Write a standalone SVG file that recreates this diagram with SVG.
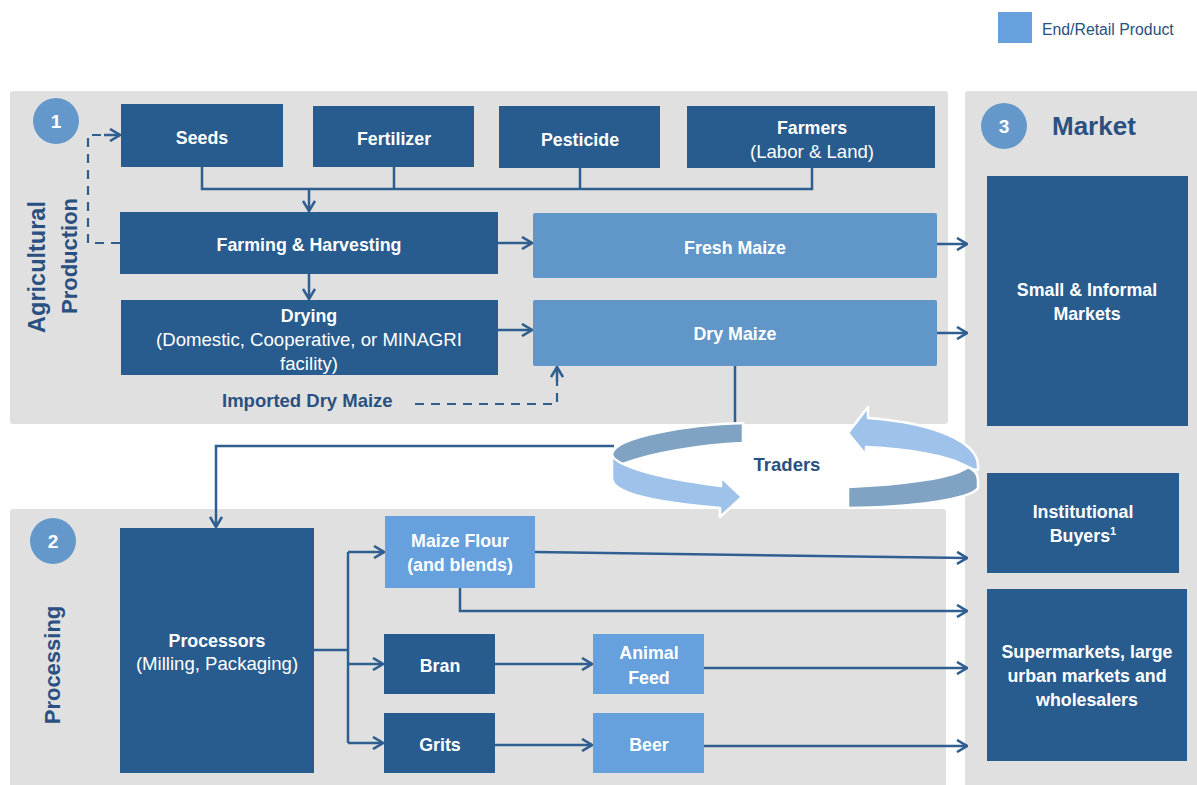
<svg xmlns="http://www.w3.org/2000/svg" width="1197" height="785" viewBox="0 0 1197 785">
<defs>
<style>
.panel{fill:#e0e0e0}
.dark{fill:#285c8e}
.mid{fill:#6196c8}
.end{fill:#66a1dd}
.t{font-family:"Liberation Sans",Arial,sans-serif;fill:#ffffff;text-anchor:middle;font-size:18.6px}
.b{font-weight:bold;font-size:17.8px}
.lbl{font-family:"Liberation Sans",Arial,sans-serif;fill:#2a5081;font-weight:bold}
.num{font-family:"Liberation Sans",Arial,sans-serif;fill:#ffffff;font-weight:bold;font-size:19px;text-anchor:middle}
.circ{fill:#6498ca}
.ln{fill:none;stroke:#2f5f91;stroke-width:2.5}
.dash{fill:none;stroke:#2f5f91;stroke-width:2.2;stroke-dasharray:9,7}
</style>
<marker id="ah" viewBox="0 0 12 14" refX="11" refY="7" markerWidth="12" markerHeight="14" markerUnits="userSpaceOnUse" orient="auto">
<path d="M1,1 L11,7 L1,13" fill="none" stroke="#2f5f91" stroke-width="2.6"/>
</marker>
</defs>
<rect width="1197" height="785" fill="#ffffff"/>

<!-- legend -->
<g id="legend">
<rect x="998" y="12" width="34" height="31" class="end"/>
<text x="1042" y="35" font-family="'Liberation Sans',Arial,sans-serif" font-size="15.8" fill="#2a5081">End/Retail Product</text>
</g>

<!-- panels -->
<g id="panel-agri">
<rect x="10" y="91" width="938" height="333" rx="3" class="panel"/>
<circle cx="56" cy="121" r="23" class="circ"/>
<text x="56" y="128" class="num">1</text>
<text transform="translate(45,267) rotate(-90)" class="lbl" font-size="23.5" text-anchor="middle">Agricultural</text>
<text transform="translate(77,256) rotate(-90)" class="lbl" font-size="22" text-anchor="middle">Production</text>
</g>
<g id="panel-proc">
<rect x="10" y="509" width="936" height="280" rx="3" class="panel"/>
<circle cx="53" cy="541" r="23" class="circ"/>
<text x="53" y="548" class="num">2</text>
<text transform="translate(60,665) rotate(-90)" class="lbl" font-size="22" text-anchor="middle">Processing</text>
</g>
<g id="panel-market">
<rect x="965" y="91" width="236" height="698" rx="3" class="panel"/>
<circle cx="1004" cy="126" r="23" class="circ"/>
<text x="1004" y="133" class="num">3</text>
<text x="1052" y="135" class="lbl" font-size="26">Market</text>
</g>

<!-- connectors -->
<g id="connectors">
<path class="ln" d="M202,167 V189 H812 V168 M394,167 V189 M580,168 V189"/>
<path class="ln" d="M309,189 V211" marker-end="url(#ah)"/>
<path class="ln" d="M309,274 V299" marker-end="url(#ah)"/>
<path class="ln" d="M498,243 H532" marker-end="url(#ah)"/>
<path class="ln" d="M498,330 H532" marker-end="url(#ah)"/>
<path class="ln" d="M937,244 H967" marker-end="url(#ah)"/>
<path class="ln" d="M937,333 H967" marker-end="url(#ah)"/>
<path class="dash" d="M120,243 H88 V135 H104"/>
<path class="ln" d="M104,135 H120" marker-end="url(#ah)"/>
<path class="dash" d="M415,404 H557 V382"/>
<path class="ln" d="M557,382 V367" marker-end="url(#ah)"/>
<path class="ln" d="M735,366 V424"/>
<path class="ln" d="M614,446 H216 V527" marker-end="url(#ah)"/>
<path class="ln" d="M314,650 H348 M348,552 V743"/>
<path class="ln" d="M348,552 H384" marker-end="url(#ah)"/>
<path class="ln" d="M348,664 H383" marker-end="url(#ah)"/>
<path class="ln" d="M348,743 H383" marker-end="url(#ah)"/>
<path class="ln" d="M535,552 L967,558" marker-end="url(#ah)"/>
<path class="ln" d="M460,588 V611 H967" marker-end="url(#ah)"/>
<path class="ln" d="M495,664 H592" marker-end="url(#ah)"/>
<path class="ln" d="M495,745 H592" marker-end="url(#ah)"/>
<path class="ln" d="M704,668 H967" marker-end="url(#ah)"/>
<path class="ln" d="M704,746 H967" marker-end="url(#ah)"/>
</g>

<!-- traders ring -->
<g id="traders" stroke="#ffffff" stroke-width="2.5" stroke-linejoin="round">
<path fill="#80a3c4" d="M743,423 C695,424 612,436 612,455 C612,460 616,464 623,464 C650,453 700,445 743,443 Z"/>
<path fill="#9fc2ea" d="M612,455 C614,462 640,476 721,486 L721,477 L742,497 L720,517 L720,508 C650,502 612,492 612,478 Z"/>
<path fill="#9fc2ea" d="M848,433 L868,407 L868,418 C935,423 978,442 978,466 L978,470 C972,470 970,468 968,467 C950,456 910,449 866,447 L866,455 Z"/>
<path fill="#80a3c4" d="M848,487 C900,485 955,478 968,467 C975,470 978,475 978,480 L978,488 C970,500 910,507 848,508 Z"/>
<text x="787" y="471" class="lbl" font-size="18.5" text-anchor="middle" stroke="none">Traders</text>
</g>

<!-- nodes -->
<g id="seeds"><rect x="121" y="104" width="162" height="63" class="dark"/><text x="202" y="144" class="t b">Seeds</text></g>
<g id="fertilizer"><rect x="313" y="106" width="161" height="61" class="dark"/><text x="394" y="145" class="t b">Fertilizer</text></g>
<g id="pesticide"><rect x="499" y="106" width="161" height="62" class="dark"/><text x="580" y="146" class="t b">Pesticide</text></g>
<g id="farmers"><rect x="687" y="106" width="248" height="62" class="dark"/><text x="812" y="134" class="t b">Farmers</text><text x="812" y="158" class="t">(Labor &amp; Land)</text></g>
<g id="farming"><rect x="120" y="212" width="378" height="62" class="dark"/><text x="309" y="251" class="t b">Farming &amp; Harvesting</text></g>
<g id="fresh-maize"><rect x="533" y="213" width="404" height="65" rx="2" class="mid"/><text x="735" y="254" class="t b">Fresh Maize</text></g>
<g id="drying"><rect x="121" y="300" width="377" height="75" class="dark"/><text x="309" y="322" class="t b">Drying</text><text x="309" y="346" class="t">(Domestic, Cooperative, or MINAGRI</text><text x="309" y="370" class="t">facility)</text></g>
<g id="dry-maize"><rect x="533" y="300" width="404" height="66" rx="2" class="mid"/><text x="735" y="340" class="t b">Dry Maize</text></g>
<g id="imported"><text x="222" y="407" class="lbl" font-size="18.5">Imported Dry Maize</text></g>
<g id="small-markets"><rect x="987" y="176" width="201" height="250" class="dark"/><text x="1087" y="296" class="t b">Small &amp; Informal</text><text x="1087" y="320" class="t b">Markets</text></g>
<g id="institutional"><rect x="987" y="473" width="192" height="100" class="dark"/><text x="1083" y="518" class="t b">Institutional</text><text x="1083" y="542" class="t b">Buyers<tspan font-size="11" dy="-7">1</tspan></text></g>
<g id="supermarkets"><rect x="987" y="589" width="200" height="172" class="dark"/><text x="1087" y="658" class="t b">Supermarkets, large</text><text x="1087" y="682" class="t b">urban markets and</text><text x="1087" y="706" class="t b">wholesalers</text></g>
<g id="processors"><rect x="120" y="528" width="194" height="245" class="dark"/><text x="217" y="647" class="t b">Processors</text><text x="217" y="670" class="t">(Milling, Packaging)</text></g>
<g id="maize-flour"><rect x="385" y="516" width="150" height="72" class="end"/><text x="460" y="547" class="t b">Maize Flour</text><text x="460" y="571" class="t b">(and blends)</text></g>
<g id="bran"><rect x="384" y="634" width="111" height="60" class="dark"/><text x="440" y="672" class="t b">Bran</text></g>
<g id="grits"><rect x="384" y="713" width="111" height="60" class="dark"/><text x="440" y="751" class="t b">Grits</text></g>
<g id="animal-feed"><rect x="593" y="634" width="111" height="60" class="end"/><text x="649" y="659" class="t b">Animal</text><text x="649" y="684" class="t b">Feed</text></g>
<g id="beer"><rect x="593" y="713" width="111" height="60" class="end"/><text x="649" y="751" class="t b">Beer</text></g>
</svg>
